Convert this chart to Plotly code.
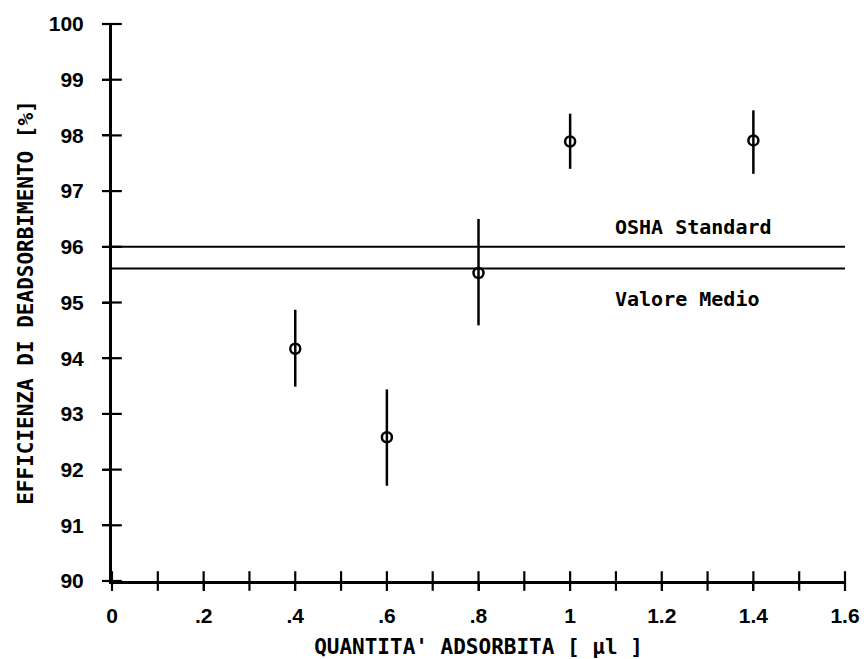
import plotly.graph_objects as go

# Data
x_vals = [0.4, 0.6, 0.8, 1.0, 1.4]
y_vals = [94.17, 92.58, 95.53, 97.89, 97.91]
err_plus = [0.70, 0.86, 0.97, 0.50, 0.54]
err_minus = [0.68, 0.87, 0.94, 0.49, 0.60]

osha_standard = 96.0
valore_medio = 95.61
ref_x = [0, 1.6]

x_tickvals = [0, 0.2, 0.4, 0.6, 0.8, 1.0, 1.2, 1.4, 1.6]
x_ticktext = ["0", ".2", ".4", ".6", ".8", "1", "1.2", "1.4", "1.6"]
x_all_ticks = [0, 0.1, 0.2, 0.3, 0.4, 0.5, 0.6, 0.7, 0.8,
               0.9, 1.0, 1.1, 1.2, 1.3, 1.4, 1.5, 1.6]
y_tickvals = [90, 91, 92, 93, 94, 95, 96, 97, 98, 99, 100]

MONO = "DejaVu Sans Mono"
fnt = dict(family=MONO, size=20, color="black", weight="bold")
title_fnt = dict(family=MONO, size=21, color="black", weight="bold")
tick_fnt = dict(family="Liberation Sans", size=21, color="black", weight="bold")

fig = go.Figure()

fig.add_trace(go.Scatter(
    x=ref_x, y=[osha_standard] * len(ref_x), mode="lines",
    line=dict(color="black", width=2), showlegend=False, hoverinfo="skip"))
fig.add_trace(go.Scatter(
    x=ref_x, y=[valore_medio] * len(ref_x), mode="lines",
    line=dict(color="black", width=2), showlegend=False, hoverinfo="skip"))

fig.add_trace(go.Scatter(
    x=x_vals, y=y_vals, mode="markers",
    marker=dict(symbol="circle-open", size=10, color="black",
                line=dict(color="black", width=2.5)),
    error_y=dict(type="data", symmetric=False, array=err_plus,
                 arrayminus=err_minus, width=0, thickness=2.5, color="black"),
    showlegend=False))

# tick marks crossing the axes (drawn at the axis tick positions)
fig.add_trace(go.Scatter(
    x=x_all_ticks, y=[90] * len(x_all_ticks), mode="markers", cliponaxis=False,
    marker=dict(symbol="line-ns", size=14, color="black",
                line=dict(color="black", width=2.2)),
    showlegend=False, hoverinfo="skip"))
fig.add_trace(go.Scatter(
    x=[0] * len(y_tickvals), y=y_tickvals, mode="markers", cliponaxis=False,
    marker=dict(symbol="line-ew", size=14, color="black",
                line=dict(color="black", width=2.2)),
    showlegend=False, hoverinfo="skip"))

fig.add_annotation(x=1.094, y=96.36, text="OSHA Standard", showarrow=False,
                   xanchor="left", yanchor="middle", font=fnt)
fig.add_annotation(x=1.094, y=95.07, text="Valore Medio", showarrow=False,
                   xanchor="left", yanchor="middle", font=fnt)

tick_common = dict(ticklen=7, tickwidth=2, tickcolor="black")

fig.update_layout(
    width=867, height=659,
    margin=dict(l=112, r=22, t=24, b=78),
    paper_bgcolor="white", plot_bgcolor="white",
    font=fnt,
    xaxis=dict(
        range=[0, 1.6], tickvals=x_tickvals, ticktext=x_ticktext,
        showgrid=False, zeroline=False, showline=True, linecolor="black",
        linewidth=3, ticks="outside", **tick_common,
        ticklabelstandoff=7, tickfont=tick_fnt, automargin=False,
        title=dict(text="QUANTITA' ADSORBITA [ µl ]", font=title_fnt, standoff=15),
    ),
    yaxis=dict(
        range=[90, 100], tickvals=y_tickvals,
        showgrid=False, zeroline=False, showline=True, linecolor="black",
        linewidth=3, ticks="outside", **tick_common,
        ticklabelstandoff=14, tickfont=tick_fnt, automargin=False,
        title=dict(text="EFFICIENZA DI DEADSORBIMENTO [%]", font=title_fnt, standoff=10),
    ),
)

fig.write_html(
    "out.html",
    config={"displayModeBar": False},
    post_script="document.body.style.margin='0';document.body.style.overflow='hidden';",
)
